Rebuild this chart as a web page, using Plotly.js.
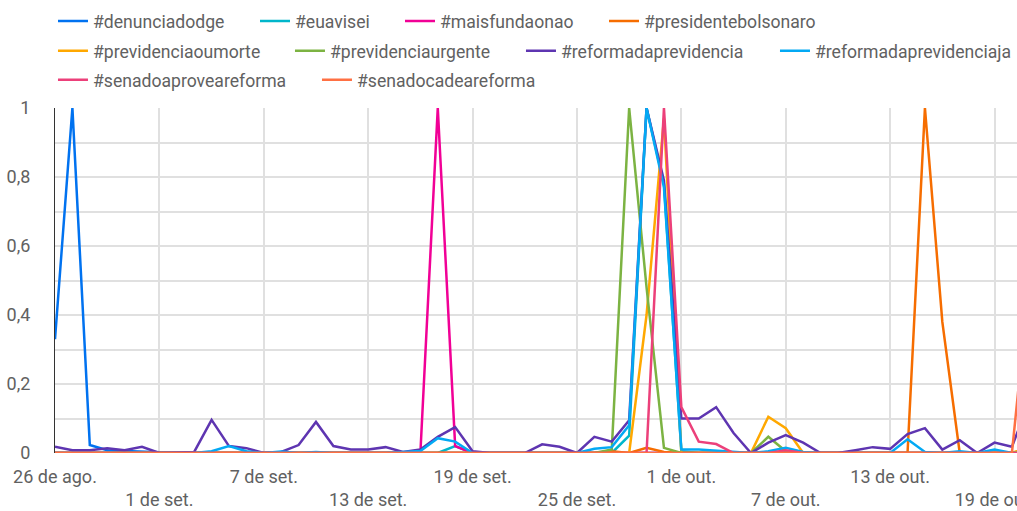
<!DOCTYPE html>
<html>
<head>
<meta charset="utf-8">
<script src="https://cdn.plot.ly/plotly-3.0.1.min.js"></script>
<style>html,body{margin:0;padding:0;background:#fff;}#chart{width:1017px;height:511px;}</style>
</head>
<body>
<div id="chart"></div>
<script>
const dates = [
 '2019-08-26','2019-08-27','2019-08-28','2019-08-29','2019-08-30','2019-08-31',
 '2019-09-01','2019-09-02','2019-09-03','2019-09-04','2019-09-05','2019-09-06','2019-09-07','2019-09-08','2019-09-09','2019-09-10',
 '2019-09-11','2019-09-12','2019-09-13','2019-09-14','2019-09-15','2019-09-16','2019-09-17','2019-09-18','2019-09-19','2019-09-20',
 '2019-09-21','2019-09-22','2019-09-23','2019-09-24','2019-09-25','2019-09-26','2019-09-27','2019-09-28','2019-09-29','2019-09-30',
 '2019-10-01','2019-10-02','2019-10-03','2019-10-04','2019-10-05','2019-10-06','2019-10-07','2019-10-08','2019-10-09','2019-10-10',
 '2019-10-11','2019-10-12','2019-10-13','2019-10-14','2019-10-15','2019-10-16','2019-10-17','2019-10-18','2019-10-19','2019-10-20',
 '2019-10-21'
];

const seriesNames = ['#denunciadodge','#euavisei','#maisfundaonao','#presidentebolsonaro',
 '#previdenciaoumorte','#previdenciaurgente','#reformadaprevidencia','#reformadaprevidenciaja',
 '#senadoaproveareforma','#senadocadeareforma'];

const denunciadodge = [
 0.33,1,0.023,0.008,0.006,0.005,0.002,0,0,0,
 0,0,0,0,0,0,0,0,0,0,
 0,0,0,0,0,0,0,0,0,0,
 0,0,0,0,0,0,0,0,0,0,
 0,0,0,0,0,0,0,0,0,0,
 0,0,0,0,0,0,0];
const euavisei = [
 0,0,0,0,0,0,0,0,0,0,
 0,0,0,0,0,0,0,0,0,0,
 0,0,0,0.02,0,0,0,0,0,0,
 0,0,0,0.05,1,0.78,0.005,0,0,0,
 0,0,0,0,0,0,0,0,0,0,
 0,0,0,0,0,0,0];
const maisfundaonao = [
 0,0,0,0,0,0,0,0,0,0,
 0,0,0,0,0,0,0,0,0,0,
 0,0,1,0.02,0,0,0,0,0,0,
 0,0,0,0,0,0,0,0,0,0,
 0,0,0,0,0,0,0,0,0,0,
 0,0,0,0,0,0,0];
const presidentebolsonaro = [
 0,0,0,0,0,0,0,0,0,0,
 0,0,0,0,0,0,0,0,0,0,
 0,0,0,0,0,0,0,0,0,0,
 0,0,0.005,0,0.015,0.003,0,0,0,0,
 0,0,0,0,0,0,0,0,0,0,
 1,0.38,0,0,0,0,0];
const previdenciaoumorte = [
 0,0,0,0,0,0,0,0,0,0,
 0,0,0,0,0,0,0,0,0,0,
 0,0,0,0,0,0,0,0,0,0,
 0,0,0,0,0.4,0.97,0,0,0,0,
 0,0.105,0.072,0,0,0,0,0,0,0,
 0,0,0,0,0,0,0.02];
const previdenciaurgente = [
 0,0,0,0,0,0,0,0,0,0,
 0,0,0,0,0,0,0,0,0,0,
 0,0,0,0,0,0,0,0,0,0,
 0,0,0.01,1,0.48,0.015,0,0,0,0,
 0,0.047,0.005,0,0,0,0,0,0,0,
 0,0,0,0,0,0,0];
const reformadaprevidencia = [
 0.018,0.008,0.008,0.014,0.008,0.018,0,0.002,0.003,0.096,
 0.02,0.014,0,0.003,0.023,0.09,0.02,0.01,0.01,0.017,
 0.003,0.01,0.047,0.075,0.005,0,0,0,0.025,0.018,
 0,0.047,0.033,0.095,1,0.79,0.1,0.1,0.133,0.058,
 0,0.03,0.052,0.03,0,0,0.008,0.017,0.012,0.055,
 0.072,0.01,0.037,0,0.03,0.018,0.15];
const reformadaprevidenciaja = [
 0,0,0,0,0,0,0,0,0,0.005,
 0.02,0.005,0,0.004,0,0.003,0,0,0,0,
 0.003,0.006,0.043,0.033,0,0,0,0,0,0,
 0,0.012,0.017,0.08,1,0.77,0.01,0.01,0.007,0.002,
 0,0.005,0.015,0.003,0,0,0,0,0,0.04,
 0.003,0,0.005,0,0.01,0,0];
const senadoaproveareforma = [
 0,0,0,0,0,0,0,0,0,0,
 0,0,0,0,0,0,0,0,0,0,
 0,0,0,0,0,0,0,0,0,0,
 0,0,0,0,0,1,0.133,0.033,0.026,0,
 0,0,0.008,0,0,0,0,0,0,0,
 0,0,0,0,0,0,0];
const senadocadeareforma = [
 0,0,0,0,0,0,0,0,0,0,
 0,0,0,0,0,0,0,0,0,0,
 0,0,0,0,0,0,0,0,0,0,
 0,0,0,0,0,0,0,0,0,0,
 0,0,0,0,0,0,0,0,0,0,
 0,0,0,0,0,0,0.5];

const tickVals = ['2019-08-26','2019-09-01','2019-09-07','2019-09-13','2019-09-19',
 '2019-09-25','2019-10-01','2019-10-07','2019-10-13','2019-10-19'];
const tickLabels = ['26 de ago.','<br>1 de set.','7 de set.','<br>13 de set.','19 de set.',
 '<br>25 de set.','1 de out.','<br>7 de out.','13 de out.','<br>19 de out.'];

const values = [denunciadodge, euavisei, maisfundaonao, presidentebolsonaro, previdenciaoumorte,
 previdenciaurgente, reformadaprevidencia, reformadaprevidenciaja, senadoaproveareforma, senadocadeareforma];
const colors = ['#0072f0','#00b6cb','#f10096','#f66d00','#ffa800','#7cb342','#5e35b1','#03a9f4','#ec407a','#ff7043'];
const legendOf = ['legend','legend','legend','legend','legend2','legend2','legend2','legend2','legend3','legend3'];
const legendWidths = [157,100,159,200,192,186,209,200,219,200];

const traces = values.map((v, i) => ({
  type: 'scatter', mode: 'lines', x: dates, y: v, name: seriesNames[i],
  line: {color: colors[i], width: 2.5},
  legend: legendOf[i], legendwidth: legendWidths[i],
  hoverinfo: 'skip'
}));

const textColor = '#616161';
const fontFam = 'Roboto, sans-serif';
const legendBase = {orientation: 'h', xanchor: 'left', yanchor: 'middle', x: -0.0021,
  font: {family: fontFam, size: 17.6, color: textColor}, bgcolor: 'rgba(0,0,0,0)', traceorder: 'normal'};

const layout = {
  width: 1017, height: 511,
  margin: {l: 55, r: 0, t: 108, b: 58, autoexpand: false},
  paper_bgcolor: '#fff', plot_bgcolor: '#fff',
  separators: ',.',
  font: {family: fontFam, size: 18, color: textColor},
  showlegend: true,
  legend: Object.assign({}, legendBase, {y: 1.252}),
  legend2: Object.assign({}, legendBase, {y: 1.166}),
  legend3: Object.assign({}, legendBase, {y: 1.082}),
  xaxis: {
    type: 'date', range: ['2019-08-26', '2019-10-20 07:00'],
    tickvals: tickVals, ticktext: tickLabels, tickangle: 0,
    ticklabeloverflow: 'allow',
    showgrid: true, gridcolor: '#e0e0e0', gridwidth: 2,
    zeroline: false, showline: false, ticks: '',
    ticklabelstandoff: 11,
    tickfont: {family: fontFam, size: 18, color: textColor}
  },
  yaxis: {
    range: [0, 1], dtick: 0.2, tick0: 0,
    showgrid: true, gridcolor: '#e0e0e0', gridwidth: 2,
    minor: {dtick: 0.1, showgrid: true, gridcolor: '#e0e0e0', gridwidth: 2},
    zeroline: false, showline: true, linecolor: '#333', linewidth: 1,
    ticks: '', ticklabelstandoff: 20,
    tickfont: {family: fontFam, size: 18, color: textColor}
  }
};

Plotly.newPlot('chart', traces, layout, {staticPlot: true, displayModeBar: false});
</script>
</body>
</html>
